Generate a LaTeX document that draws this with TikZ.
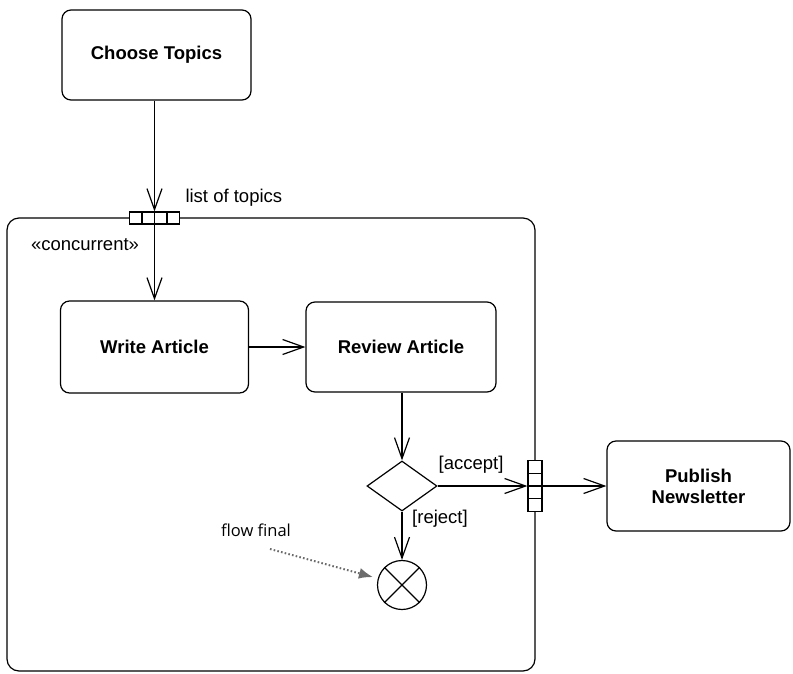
\documentclass[tikz,border=0pt]{standalone}
\usepackage{fontspec}
\setmainfont{Liberation Sans}
\newfontfamily\notefont{Open Sans}
\usetikzlibrary{arrows.meta,shapes.geometric}
\begin{document}
\begin{tikzpicture}[x=1pt,y=-1pt,
  every node/.style={font=\fontsize{18.5}{21}\selectfont},
  action/.style={draw,line width=1.2pt,rounded corners=9pt,inner sep=0pt,
     font=\fontsize{18.5}{21}\selectfont\bfseries,align=center},
  pinbox/.style={draw,line width=1.2pt,fill=white,inner sep=0pt},
  flow/.style={line width=1.2pt,-{Straight Barb[length=21pt,width=15pt,line width=1.2pt]}},
  plain/.style={line width=1.2pt},
  note/.style={gray!85!black,line width=2pt,dash pattern=on 1.6pt off 2.2pt,
     -{Latex[length=14pt,width=11pt]}}
]
\useasboundingbox (0,0) rectangle (793,673);
% activity region
\draw[line width=1.2pt,rounded corners=12pt] (7,218) rectangle (535,671);
% actions
\node[action,minimum width=189pt,minimum height=90pt] (choose) at (156.5,55) {Choose Topics};
\node[action,minimum width=188pt,minimum height=92pt] (write) at (154.5,347) {Write Article};
\node[action,minimum width=190pt,minimum height=90pt] (review) at (401,347) {Review Article};
\node[action,minimum width=183pt,minimum height=90pt] (publish) at (698.5,486) {Publish\\Newsletter};
% pins
\node[pinbox,minimum width=50pt,minimum height=12pt] (pinT) at (154.5,218) {};
\foreach \d in {-12.5,0,12.5}
  \draw[plain] ([xshift=\d pt]pinT.north) -- ([xshift=\d pt]pinT.south);
\node[pinbox,minimum width=14pt,minimum height=51pt] (pinR) at (535,486) {};
\foreach \d in {-12.75,0,12.75}
  \draw[plain] ([yshift=\d pt]pinR.west) -- ([yshift=\d pt]pinR.east);
% decision and flow final
\node[draw,diamond,line width=1.2pt,inner sep=0pt,minimum width=70pt,minimum height=50pt,aspect=1.4] (dec) at (402,486) {};
\node[draw,circle,line width=1.2pt,inner sep=0pt,minimum size=49pt] (ff) at (402,585) {};
\draw[plain] (ff.north east) -- (ff.south west);
\draw[plain] (ff.north west) -- (ff.south east);
% labels
\node[anchor=west] (lot) at (182,198) {list of topics};
\node (conc) at (85,245) {«concurrent»};
\node (acc) at (471,465) {[accept]};
\node (rej) at (440,519) {[reject]};
\node[font=\notefont\fontsize{16.5}{19}\selectfont] (ffl) at (256,530) {flow final};
\coordinate (ffs) at (270,549);
% flows
\draw[flow] (choose.south -| pinT) -- (pinT.north);
\draw[flow] (pinT.south) -- (pinT.south |- write.north);
\draw[flow] (write.east) -- (review.west);
\draw[flow] (review.south -| dec.north) -- (dec.north);
\draw[flow] (dec.east) -- (pinR.west);
\draw[flow] (pinR.east) -- (publish.west);
\draw[flow] (dec.south) -- (ff.north);
\draw[note,shorten >=5pt] (ffs) -- (ff);
\end{tikzpicture}
\end{document}
